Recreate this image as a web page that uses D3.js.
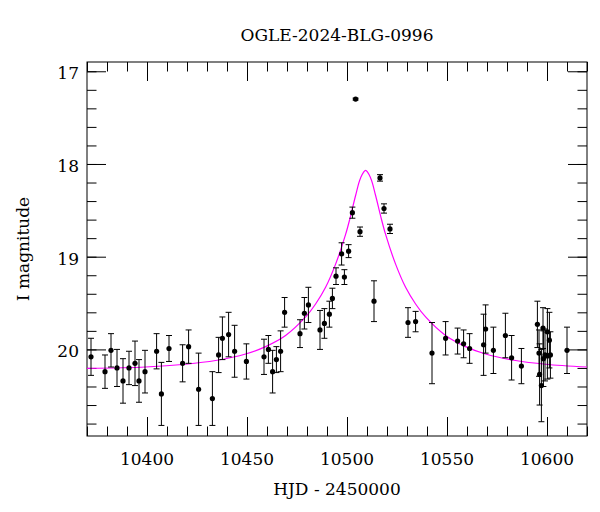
<!DOCTYPE html>
<html><head><meta charset="utf-8">
<script src="https://cdn.jsdelivr.net/npm/d3@7/dist/d3.min.js"></script>
<style>
body{margin:0;background:#fff}
svg{display:block}
text{font-family:"DejaVu Serif",serif;fill:#000}
</style>
</head><body>
<svg id="chart" width="600" height="512"></svg>
<script>
// ---- data ----
const title = "OGLE-2024-BLG-0996";
const xLabel = "HJD - 2450000";
const yLabel = "I magnitude";

const hjd = [10372,10379,10382,10385,10388,10391,10394,10396,10399,10404.8,10407.2,10411,10417.8,10420.8,10425.8,10432.7,
  10435.8,10437.7,10440.8,10443.8,10449.7,10458.5,10460.7,10462.8,10464.7,10466.8,10468.8,10476.5,10478.7,10480.7,
  10486.5,10488.7,10491.2,10492.7,10494.5,10497.3,10498.7,10500.8,10502.7,10504.3,10506.5,10513.5,10516.5,10518.5,
  10521.5,10530.5,10534.3,10542.5,10549.3,10555.3,10558.3,10561.3,10568.3,10569.3,10573.2,10579.2,10582.3,10587.2,
  10595.2,10596,10596.3,10597.2,10598,10598.2,10599,10600.2,10600.2,10601.2,10601.7,10610];
const mag = [20.08,20.24,20.01,20.20,20.34,20.20,20.15,20.34,20.24,20.02,20.48,19.99,20.15,19.97,20.43,20.53,
  20.06,19.88,19.84,20.02,20.13,20.08,20.00,20.24,20.11,20.02,19.60,19.83,19.61,19.52,
  19.79,19.72,19.62,19.45,19.21,18.97,19.22,18.94,18.525,17.30,18.73,19.48,18.15,18.48,
  18.70,19.71,19.70,20.04,19.88,19.91,19.94,19.99,19.95,19.78,20.01,19.85,20.09,20.18,
  19.73,20.04,20.27,20.39,19.77,20.10,20.06,19.81,20.07,19.90,20.06,20.01];
const magErr = [0.20,0.18,0.18,0.20,0.24,0.18,0.24,0.23,0.23,0.19,0.34,0.14,0.20,0.18,0.39,0.29,
  0.19,0.23,0.24,0.28,0.19,0.19,0.15,0.23,0.14,0.22,0.16,0.15,0.17,0.19,
  0.21,0.16,0.14,0.11,0.09,0.12,0.08,0.07,0.06,0.01,0.05,0.22,0.035,0.05,
  0.05,0.16,0.11,0.33,0.18,0.14,0.15,0.16,0.33,0.26,0.25,0.24,0.24,0.19,
  0.25,0.25,0.33,0.39,0.22,0.30,0.28,0.25,0.25,0.30,0.25,0.25];

// model curve
const modelHjd = [10370,10399.3,10419.3,10434.3,10449.3,10459.3,10469.3,10479.3,10484.3,10489.3,10494.3,10499.3,
  10501.8,10504.3,10506.8,10509.3,10511.8,10514.3,10516.8,10519.3,10524.3,10529.3,10534.3,10539.3,10549.3,
  10559.3,10569.3,10584.3,10599.3,10620];
const modelMag = [20.205,20.19,20.16,20.12,20.05,19.97,19.85,19.65,19.51,19.33,19.08,18.76,
  18.56,18.34,18.15,18.07,18.15,18.34,18.56,18.76,19.08,19.33,19.51,19.65,19.85,
  19.97,20.05,20.12,20.16,20.19];

const xMajorTicks = [10400,10450,10500,10550,10600];
const xMinorTicks = d3.range(10370,10621,10);
const yMajorTicks = [17,18,19,20];
const yMinorTicks = d3.range(17,20.81,0.2).map(v=>+v.toFixed(1));

// ---- layout ----
const L=87, R=587, T=62, B=436;
const svg = d3.select("#chart");
const x = d3.scaleLinear().domain([10370,10620]).range([L,R]);
const y = d3.scaleLinear().domain([16.9,20.934]).range([T,B]);

const maj=19, mnr=9.5;
function tickAxis(axisFn, scale, vals, size, tr){
  svg.append("g").attr("transform",tr)
    .call(axisFn(scale).tickValues(vals).tickSize(-size).tickFormat(""))
    .call(g=>{g.select(".domain").remove(); g.selectAll("line").attr("stroke","#000").attr("stroke-width",1);});
}
tickAxis(d3.axisBottom,x,xMinorTicks,mnr,`translate(0,${B})`);
tickAxis(d3.axisBottom,x,xMajorTicks,maj,`translate(0,${B})`);
tickAxis(d3.axisTop,x,xMinorTicks,mnr,`translate(0,${T})`);
tickAxis(d3.axisTop,x,xMajorTicks,maj,`translate(0,${T})`);
tickAxis(d3.axisLeft,y,yMinorTicks,mnr,`translate(${L},0)`);
tickAxis(d3.axisLeft,y,yMajorTicks,maj,`translate(${L},0)`);
tickAxis(d3.axisRight,y,yMinorTicks,mnr,`translate(${R},0)`);
tickAxis(d3.axisRight,y,yMajorTicks,maj,`translate(${R},0)`);

svg.append("rect").attr("x",L).attr("y",T).attr("width",R-L).attr("height",B-T)
  .attr("fill","none").attr("stroke","#000").attr("stroke-width",1);

// tick labels
svg.append("g").selectAll("text").data(xMajorTicks).join("text")
  .attr("x",d=>x(d)).attr("y",B+29).attr("text-anchor","middle").attr("font-size",17).text(d=>d);
svg.append("g").selectAll("text").data(yMajorTicks).join("text")
  .attr("x",L-8).attr("y",d=>y(d)+8).attr("text-anchor","end").attr("font-size",17).text(d=>d);

// titles
svg.append("text").attr("x",(L+R)/2).attr("y",41).attr("text-anchor","middle").attr("font-size",17).text(title);
svg.append("text").attr("x",(L+R)/2).attr("y",B+59).attr("text-anchor","middle").attr("font-size",17).text(xLabel);
svg.append("text").attr("transform",`translate(29,${(T+B)/2}) rotate(-90)`).attr("text-anchor","middle").attr("font-size",17).text(yLabel);

// model curve
const clip = svg.append("clipPath").attr("id","clip").append("rect").attr("x",L).attr("y",T).attr("width",R-L).attr("height",B-T);
const line = d3.line().x(d=>x(d[0])).y(d=>y(d[1])).curve(d3.curveCatmullRom.alpha(0.5));
svg.append("path").datum(modelHjd.map((t,i)=>[t,modelMag[i]]))
  .attr("d",line).attr("fill","none").attr("stroke","#ff00ff").attr("stroke-width",1.2).attr("clip-path","url(#clip)");

// data with error bars
const pts = hjd.map((t,i)=>({t,m:mag[i],e:magErr[i]}));
const g = svg.append("g");
const eb = g.selectAll("g.eb").data(pts).join("g").attr("class","eb");
eb.append("line").attr("x1",d=>x(d.t)).attr("x2",d=>x(d.t)).attr("y1",d=>y(d.m-d.e)).attr("y2",d=>y(d.m+d.e)).attr("stroke","#000");
eb.append("line").attr("x1",d=>x(d.t)-3).attr("x2",d=>x(d.t)+3).attr("y1",d=>y(d.m-d.e)).attr("y2",d=>y(d.m-d.e)).attr("stroke","#000");
eb.append("line").attr("x1",d=>x(d.t)-3).attr("x2",d=>x(d.t)+3).attr("y1",d=>y(d.m+d.e)).attr("y2",d=>y(d.m+d.e)).attr("stroke","#000");
g.selectAll("circle").data(pts).join("circle").attr("cx",d=>x(d.t)).attr("cy",d=>y(d.m)).attr("r",2.6).attr("fill","#000");
</script>
</body></html>
